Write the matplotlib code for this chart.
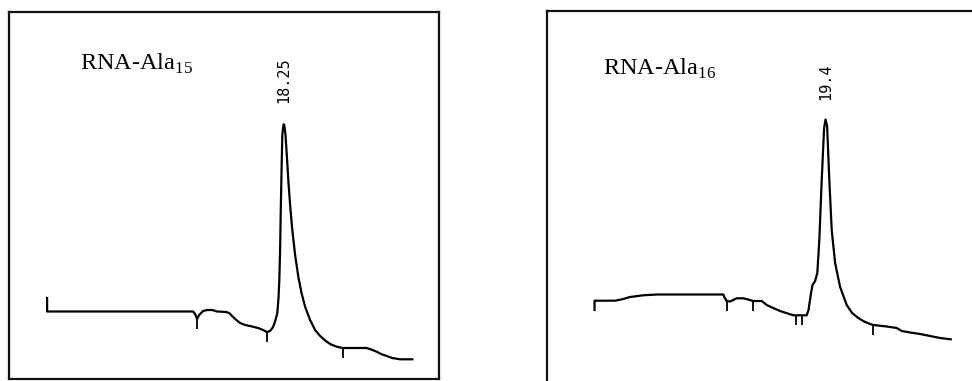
import matplotlib
matplotlib.use("Agg")
import matplotlib.pyplot as plt

plt.rcParams["font.family"] = ["Liberation Serif", "DejaVu Serif"]

# ---- data: retention time (min) vs detector signal (arb. units) ----
left_title = "RNA-Ala$_{\\mathregular{15}}$"
left_peak = "18.25"
left_time = [6.43, 6.43, 13.73, 13.83, 13.93, 14.03, 14.23, 14.43, 14.68, 14.93,
             15.38, 15.53, 15.68, 15.83, 16.08, 16.33, 16.68, 16.98, 17.23, 17.41,
             17.58, 17.73, 17.85, 17.94, 18.00, 18.04, 18.08, 18.11, 18.16, 18.19,
             18.25, 18.29, 18.35, 18.43, 18.49, 18.58, 18.69, 18.83, 18.99, 19.15,
             19.33, 19.58, 19.83, 20.08, 20.41, 20.63, 20.91, 21.21, 22.41, 22.63,
             22.91, 23.13, 23.41, 23.68, 24.08, 24.69]
left_signal = [81, 67.5, 67.5, 65, 60, 64, 68, 69, 69, 67.5,
               67, 66, 63, 60, 56, 54, 52.5, 51, 49, 47,
               48, 52, 59, 66, 81, 99, 129, 166, 216, 244,
               254.7, 254, 244, 219, 199, 174, 149, 124, 102.3, 86,
               72.3, 59, 49, 43, 37.3, 34.5, 32.3, 31, 31, 29.5,
               27.3, 25, 23, 21, 19.7, 19.7]
left_marks_t = [13.93, 17.41, 21.21]
left_marks_s = [60, 47, 31]

right_title = "RNA-Ala$_{\\mathregular{16}}$"
right_peak = "19.4"
right_time = [7.85, 7.85, 8.88, 9.18, 9.63, 10.28, 10.98, 14.29, 14.35, 14.46,
              14.63, 14.96, 15.29, 15.53, 15.79, 16.21, 16.46, 16.78, 17.13, 17.48,
              17.79, 18.46, 18.55, 18.66, 18.75, 18.88, 18.99, 19.09, 19.21, 19.33,
              19.40, 19.48, 19.59, 19.71, 19.88, 20.13, 20.46, 20.73, 21.04, 21.33,
              21.63, 21.78, 22.46, 22.96, 23.21, 23.63, 24.13, 24.63, 25.13, 25.66]
right_signal = [74, 83.3, 83.3, 84.5, 87, 88.7, 89.5, 89.5, 86.5, 83,
                82.5, 85.7, 85.7, 84.5, 83, 83, 79, 76, 73, 70.7,
                68.7, 68.7, 74, 89, 99, 103, 111, 144, 204, 256,
                264.5, 258, 204, 154, 121, 97, 79, 71, 66, 62.5,
                60, 59, 57.5, 56, 53, 51.5, 50, 48, 46, 44.7]
right_marks_t = [14.46, 15.79, 17.91, 18.21, 21.78]
right_marks_s = [83, 83, 68.7, 68.7, 59]

MARK_LEN = 10

fig = plt.figure(figsize=(9.72, 3.81), dpi=100)

panels = [
    dict(rect=[0.00926, 0.00525, 0.4424, 0.9633], xlim=(4.525, 26.025), ylim=(0, 367),
         t=left_time, s=left_signal, mt=left_marks_t, ms=left_marks_s,
         title=left_title, title_xy=(0.165, 0.842), peak=left_peak, peak_t=18.25, peak_s=299,
         hide=[]),
    dict(rect=[0.5628, -0.00787, 0.4372, 0.9777], xlim=(5.475, 26.725), ylim=(0, 372.5),
         t=right_time, s=right_signal, mt=right_marks_t, ms=right_marks_s,
         title=right_title, title_xy=(0.132, 0.83), peak=right_peak, peak_t=19.4, peak_s=302,
         hide=["right", "bottom"]),
]

for p in panels:
    ax = fig.add_axes(p["rect"])
    ax.plot(p["t"], p["s"], color="black", lw=1.6, solid_joinstyle="round")
    ax.vlines(p["mt"], [v - MARK_LEN for v in p["ms"]], p["ms"], color="black", lw=1.3)
    ax.set_xlim(*p["xlim"])
    ax.set_ylim(*p["ylim"])
    ax.set_xticks([])
    ax.set_yticks([])
    for side, sp in ax.spines.items():
        sp.set_linewidth(1.6)
        sp.set_color("#111111")
        if side in p["hide"]:
            sp.set_visible(False)
    ax.text(p["title_xy"][0], p["title_xy"][1], p["title"], transform=ax.transAxes,
            fontsize=17.5, ha="left", va="baseline")
    ax.text(p["peak_t"], p["peak_s"], p["peak"], rotation=90, family="DejaVu Sans Mono",
            fontsize=11, ha="center", va="center")

fig.savefig("out.png", dpi=100)
